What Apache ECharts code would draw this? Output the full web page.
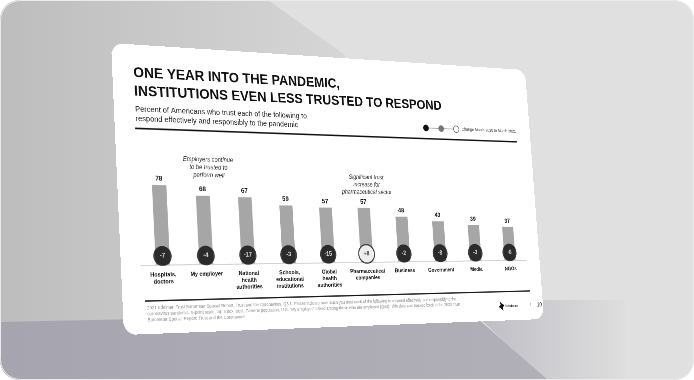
<!DOCTYPE html>
<html><head><meta charset="utf-8">
<script src="https://cdn.jsdelivr.net/npm/echarts@6/dist/echarts.min.js"></script>
<style>
html,body{margin:0;padding:0;background:#fff;overflow:hidden;width:694px;height:380px;}
#bg{position:absolute;left:0;top:0;width:694px;height:380px;}
#card{position:absolute;left:0;top:0;width:960px;height:540px;transform-origin:0 0;background:#fff;border-radius:24px;overflow:hidden;}
</style></head>
<body>
<div id="bg"><svg width="694" height="380" xmlns="http://www.w3.org/2000/svg">
<defs>
<linearGradient id="gL" x1="0" x2="1" y1="0" y2="0"><stop offset="0" stop-color="#bdbdbd"/><stop offset="1" stop-color="#d6d6d6"/></linearGradient>
<linearGradient id="gB" x1="0" x2="1" y1="0" y2="0"><stop offset="0" stop-color="#a6a4ae"/><stop offset="1" stop-color="#b1afb8"/></linearGradient>
<linearGradient id="gR" x1="0" x2="1" y1="0" y2="0"><stop offset="0" stop-color="#bbb9c1"/><stop offset="1" stop-color="#dedede"/></linearGradient>
<clipPath id="clip"><rect width="694" height="380" rx="20"/></clipPath>
</defs>
<g clip-path="url(#clip)">
<rect width="694" height="380" fill="#e0e0e0"/>
<polygon points="0,0 268,0 345,55 345,335 0,335" fill="url(#gL)"/>
<polygon points="460,300 625,300 625,380 545,380" fill="url(#gR)"/>
<polygon points="0,322 470,312 548,380 0,380" fill="url(#gB)"/>
</g>
<rect x="0.5" y="0.5" width="693" height="379" rx="20" fill="none" stroke="#ebebeb"/>
</svg></div>
<div id="card"></div>
<script>
// ---- data ----
const categories = ['Hospitals,\ndoctors','My employer','National\nhealth\nauthorities','Schools,\neducational\ninstitutions','Global\nhealth\nauthorities','Pharmaceutical\ncompanies','Business','Government','Media','NGOs'];
const trustValues = [78,68,67,59,57,57,48,43,39,37];
const changeValues = [-7,-4,-17,-3,-15,8,-2,-8,-3,-8];

// ---- perspective mapping of the slide card ----
const W = 960, H = 540;
const Q = [[111,43],[525,70],[544,319],[124,335]]; // TL TR BR BL in page pixels
function adj(m){return [m[4]*m[8]-m[5]*m[7], m[2]*m[7]-m[1]*m[8], m[1]*m[5]-m[2]*m[4],
  m[5]*m[6]-m[3]*m[8], m[0]*m[8]-m[2]*m[6], m[2]*m[3]-m[0]*m[5],
  m[3]*m[7]-m[4]*m[6], m[1]*m[6]-m[0]*m[7], m[0]*m[4]-m[1]*m[3]];}
function mmm(a,b){const c=[];for(let i=0;i<3;i++)for(let j=0;j<3;j++){let s=0;for(let k=0;k<3;k++)s+=a[3*i+k]*b[3*k+j];c[3*i+j]=s;}return c;}
function mmv(m,v){return [m[0]*v[0]+m[1]*v[1]+m[2]*v[2], m[3]*v[0]+m[4]*v[1]+m[5]*v[2], m[6]*v[0]+m[7]*v[1]+m[8]*v[2]];}
function basis(p){const m=[p[0][0],p[1][0],p[2][0],p[0][1],p[1][1],p[2][1],1,1,1];const v=mmv(adj(m),[p[3][0],p[3][1],1]);return mmm(m,[v[0],0,0,0,v[1],0,0,0,v[2]]);}
const sB = basis([[0,0],[W,0],[0,H],[W,H]]);
const dB = basis([Q[0],Q[1],Q[3],Q[2]]);
let T = mmm(dB, adj(sB)); T = T.map(v => v / T[8]);
const cardEl = document.getElementById('card');
cardEl.style.transform = 'matrix3d(' + [T[0],T[3],0,T[6], T[1],T[4],0,T[7], 0,0,1,0, T[2],T[5],0,T[8]].join(',') + ')';
const Ti = adj(T);
function P(x,y){const r=mmv(Ti,[x,y,1]);return [r[0]/r[2], r[1]/r[2]];}

// ---- layout (card space) ----
const b1 = P(163,266), b10 = P(510,259);
const bw = (b10[0]-b1[0]) / (categories.length-1);
const baseY = (b1[1]+b10[1])/2;
const pu = ((baseY-P(163,185)[1])/78 + (baseY-P(510,227)[1])/37)/2;
const YMAX = 100;
const bubbleY = (baseY - P(163,256)[1]) / pu;
const FONT = 'Liberation Sans, Arial, sans-serif';

const tl = P(133,68), st = P(135,106);
const r1a = P(135,127), r1b = P(517,143);
const r2a = P(145,302), r2b = P(530,290);
const an1 = P(208,156), an2 = P(366,174);
const lg = P(426,128);
const fn = P(147,305);
const logo = P(500,306), pg = P(537,305);

function fmt(v){return (v>0?'+':'') + v;}

const chart = echarts.init(cardEl, null, {renderer:'canvas', width:W, height:H});
chart.setOption({
  animation:false,
  textStyle:{fontFamily:FONT},
  grid:{left:b1[0]-bw/2, right:W-(b10[0]+bw/2), top:baseY-YMAX*pu, bottom:H-baseY, containLabel:false},
  xAxis:{type:'category', data:categories,
    axisLine:{show:true, lineStyle:{color:'#d4d4d4', width:2}},
    axisTick:{show:false},
    axisLabel:{interval:0, fontFamily:FONT, fontWeight:'bold', fontSize:11, lineHeight:13, color:'#111', margin:12}},
  yAxis:{type:'value', min:0, max:YMAX, show:false, splitLine:{show:false}},
  series:[
    {type:'bar', data:trustValues, barWidth:29, itemStyle:{color:'#a6a6a6'}, z:2,
     label:{show:true, position:'top', distance:6, color:'#111', fontWeight:'bold', fontSize:13, fontFamily:FONT}},
    {type:'scatter', z:5, symbol:'circle', symbolSize:37,
     data:changeValues.map((c,i)=>({value:[categories[i], bubbleY], change:c,
        itemStyle: c>0 ? {color:'#fff', borderColor:'#111', borderWidth:2.5} : {color:'#0d0d0d'},
        label:{color: c>0 ? '#111' : '#fff'}})),
     label:{show:true, position:'inside', fontSize:12, fontWeight:'bold', fontFamily:FONT,
        formatter:p=>fmt(p.data.change)}}
  ],
  graphic:[
    {type:'text', x:tl[0], y:tl[1]-8, style:{text:'ONE YEAR INTO THE PANDEMIC,\nINSTITUTIONS EVEN LESS TRUSTED TO RESPOND',
      font:'bold 28px '+FONT, lineHeight:35, fill:'#111', textVerticalAlign:'top'}},
    {type:'text', x:st[0], y:st[1]-3, style:{text:'Percent of Americans who trust each of the following to\nrespond effectively and responsibly to the pandemic',
      font:'15px '+FONT, lineHeight:18, fill:'#222', textVerticalAlign:'top'}},
    {type:'line', shape:{x1:r1a[0], y1:(r1a[1]+r1b[1])/2, x2:r1b[0], y2:(r1a[1]+r1b[1])/2}, style:{stroke:'#111', lineWidth:3}},
    {type:'line', shape:{x1:r2a[0], y1:(r2a[1]+r2b[1])/2, x2:r2b[0], y2:(r2a[1]+r2b[1])/2}, style:{stroke:'#111', lineWidth:2.5}},
    {type:'text', x:an1[0], y:an1[1], style:{text:'Employers continue\nto be trusted to\nperform well', font:'italic 12px '+FONT, lineHeight:15, fill:'#333', textAlign:'center', textVerticalAlign:'top'}},
    {type:'text', x:an2[0], y:an2[1], style:{text:'Significant trust\nincrease for\npharmaceutical sector', font:'italic 12px '+FONT, lineHeight:15, fill:'#333', textAlign:'center', textVerticalAlign:'top'}},
    // legend
    {type:'line', shape:{x1:lg[0], y1:lg[1], x2:lg[0]+76, y2:lg[1]}, style:{stroke:'#999', lineWidth:1.5}},
    {type:'circle', shape:{cx:lg[0], cy:lg[1], r:7}, style:{fill:'#111'}},
    {type:'circle', shape:{cx:lg[0]+38, cy:lg[1], r:7}, style:{fill:'#6f7a80'}},
    {type:'circle', shape:{cx:lg[0]+76, cy:lg[1], r:7}, style:{fill:'#fff', stroke:'#666', lineWidth:1.5}},
    {type:'text', x:lg[0]+90, y:lg[1], style:{text:'Change March 2020 to March 2021', font:'9px '+FONT, fill:'#333', textVerticalAlign:'middle'}},
    // footnote
    {type:'text', x:fn[0], y:fn[1], style:{text:'2021 Edelman Trust Barometer Special Report: Trust and the Coronavirus. Q3.1. Please indicate how much you trust each of the following to respond effectively and responsibly to the\ncoronavirus pandemic. 9-point scale; top 4 box, trust. General population, U.S. "My employer" asked among those who are employed (Q43). This data was tracked back to the 2020 Trust\nBarometer Special Report: Trust and the Coronavirus.',
      font:'8.5px '+FONT, lineHeight:11, fill:'#8f8f8f', textVerticalAlign:'top'}},
    // logo + page
    {type:'polygon', shape:{points:[[logo[0],logo[1]-10],[logo[0]+6,logo[1]-4],[logo[0]+12,logo[1]-2],[logo[0]+7,logo[1]+3],[logo[0]+8,logo[1]+10],[logo[0]+2,logo[1]+5],[logo[0]-3,logo[1]+2],[logo[0]+2,logo[1]-3]]}, style:{fill:'#111'}},
    {type:'text', x:logo[0]+14, y:logo[1], style:{text:'Edelman', font:'bold 8px '+FONT, fill:'#222', textVerticalAlign:'middle'}},
    {type:'text', x:pg[0]-18, y:pg[1], style:{text:'|', font:'11px '+FONT, fill:'#666', textVerticalAlign:'middle'}},
    {type:'text', x:pg[0], y:pg[1], style:{text:'10', font:'12px '+FONT, fill:'#222', textVerticalAlign:'middle'}}
  ]
});
</script>
</body></html>
